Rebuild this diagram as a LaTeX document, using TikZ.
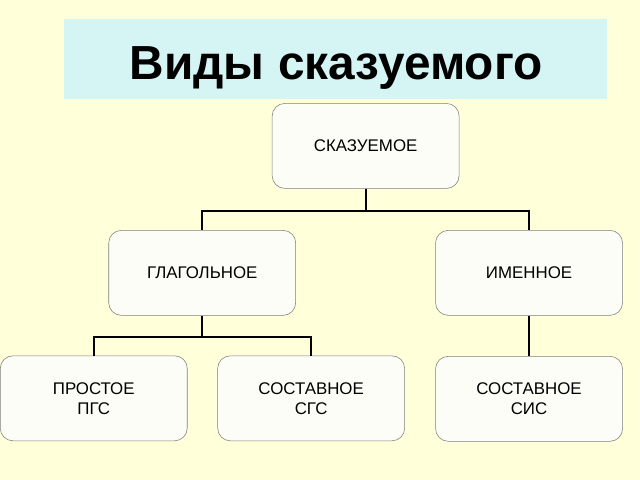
\documentclass[tikz,border=0pt]{standalone}
\usepackage{fontspec}
\setmainfont{Liberation Sans}
\definecolor{bgyellow}{HTML}{FFFFD9}
\definecolor{titlecyan}{HTML}{D5F5F5}
\definecolor{boxline}{HTML}{808080}
\definecolor{boxfill}{HTML}{FDFDF7}
\tikzset{
  kind/.style={draw=boxline, fill=boxfill, rounded corners=9pt,
    minimum width=4.675cm, minimum height=2.125cm, align=center,
    font=\fontsize{12}{14.2}\selectfont},
  tree/.style={line width=1.4pt}
}
\begin{document}
\begin{tikzpicture}[x=0.025cm, y=-0.025cm]
  % page and title strip
  \fill[bgyellow] (0,0) rectangle (640,480);
  \fill[titlecyan] (64,19) rectangle (607,99);
  \node (title) at (336,80) [anchor=base, font=\fontsize{34}{40}\selectfont\bfseries] {Виды сказуемого};

  % boxes
  \node (skaz) at (365.5,146) [kind] {СКАЗУЕМОЕ};
  \node (glag) at (202,273) [kind] {ГЛАГОЛЬНОЕ};
  \node (imen) at (529,273) [kind] {ИМЕННОЕ};
  \node (pgs)  at (93.5,398.5) [kind] {ПРОСТОЕ\\ПГС};
  \node (sgs)  at (311,398.5) [kind] {СОСТАВНОЕ\\СГС};
  \node (sis)  at (529,399) [kind] {СОСТАВНОЕ\\СИС};

  % links
  \draw[tree] (skaz.south) -- ++(0,22) -| (glag.north);
  \draw[tree] (skaz.south) -- ++(0,22) -| (imen.north);
  \draw[tree] (glag.south) -- ++(0,21) -| (pgs.north);
  \draw[tree] (glag.south) -- ++(0,21) -| (sgs.north);
  \draw[tree] (imen.south) -- (sis.north);
\end{tikzpicture}
\end{document}
